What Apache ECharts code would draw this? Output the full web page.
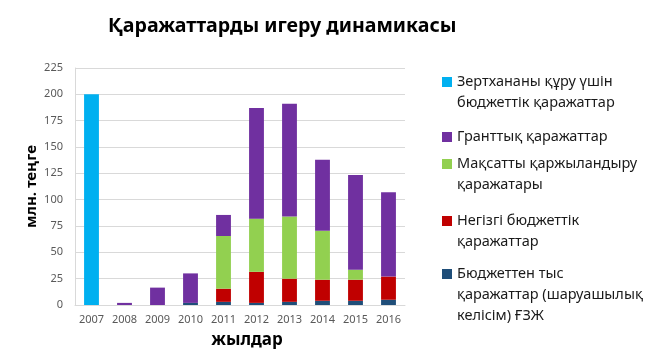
<!DOCTYPE html>
<html><head><meta charset="utf-8">
<script src="https://cdn.jsdelivr.net/npm/echarts@6/dist/echarts.min.js"></script>
<style>html,body{margin:0;background:#fff}#c{width:660px;height:363px}</style>
</head><body><div id="c"></div>
<script>
const years = ['2007','2008','2009','2010','2011','2012','2013','2014','2015','2016'];
const labFunds    = [200, 0, 0, 0, 0, 0, 0, 0, 0, 0];
const extraFunds  = [0, 0, 0, 2, 3, 2, 3, 4, 4, 5];
const basicFunds  = [0, 0, 0, 0, 12.5, 29.5, 22, 20, 20, 22];
const targetFunds = [0, 0, 0, 0, 50, 50.5, 59, 46.5, 9.5, 0];
const grantFunds  = [0, 2, 16.5, 28, 20, 105, 107, 67.5, 90, 80];
const yTicks = [0, 25, 50, 75, 100, 125, 150, 175, 200, 225];

const names = {
  lab: 'Зертхананы құру үшін\nбюджеттік қаражаттар',
  grant: 'Гранттық қаражаттар',
  target: 'Мақсатты қаржыландыру\nқаражатары',
  basic: 'Негізгі бюджеттік\nқаражаттар',
  extra: 'Бюджеттен тыс\nқаражаттар (шаруашылық\nкелісім) ҒЗЖ'
};
const colors = {lab:'#00B0F0', grant:'#7030A0', target:'#92D050', basic:'#C00000', extra:'#1F4E79'};
const FONT = 'Noto Sans';
const L = 21, S = 10;
function legendFor(key, lines, firstCenter) {
  const h = lines * L;
  const y0 = (L - S) / 2;
  const icon = lines === 1 ? 'rect'
    : 'path://M0,' + y0 + 'h' + S + 'v' + S + 'h-' + S + 'z M0,0 M' + S + ',' + h;
  return {
    data: [names[key]], orient: 'vertical', left: 442,
    top: firstCenter - L / 2, padding: 0,
    icon: icon, itemWidth: S, itemHeight: lines === 1 ? S : h, selectedMode: false,
    textStyle: {fontFamily: FONT, fontSize: 14.5, color: '#1a1a1a', lineHeight: L}
  };
}
function bar(key, data) {
  return {name: names[key], type: 'bar', stack: 'a', data: data, barWidth: '45%',
    itemStyle: {color: colors[key]}};
}
const chart = echarts.init(document.getElementById('c'), null, {renderer: 'canvas'});
chart.setOption({
  animation: false,
  title: {text: 'Қаражаттарды игеру динамикасы', left: 103, top: 11,
    textStyle: {fontFamily: FONT, fontSize: 19.6, fontWeight: 'bold', color: '#000'}},
  grid: {left: 75, right: 255, top: 68, bottom: 58},
  legend: [
    legendFor('lab', 2, 82),
    legendFor('grant', 1, 137),
    legendFor('target', 2, 164),
    legendFor('basic', 2, 221),
    legendFor('extra', 3, 274)
  ],
  xAxis: {type: 'category', data: years,
    name: 'жылдар', nameLocation: 'middle', nameGap: 27,
    nameTextStyle: {fontFamily: FONT, fontSize: 17, fontWeight: 'bold', color: '#000', padding: [0, 0, 0, 14]},
    axisLine: {lineStyle: {color: '#d9d9d9'}}, axisTick: {show: false},
    axisLabel: {fontFamily: FONT, fontSize: 11, color: '#595959', margin: 9}},
  yAxis: {type: 'value', min: yTicks[0], max: yTicks[yTicks.length-1], interval: yTicks[1]-yTicks[0],
    name: 'млн. теңге', nameLocation: 'middle', nameGap: 36,
    nameTextStyle: {fontFamily: FONT, fontSize: 15, fontWeight: 'bold', color: '#000'},
    axisLine: {show: true, lineStyle: {color: '#d9d9d9'}}, axisTick: {show: false},
    splitLine: {lineStyle: {color: '#d9d9d9'}},
    axisLabel: {fontFamily: FONT, fontSize: 11, color: '#595959', margin: 12}},
  series: [
    bar('extra', extraFunds),
    bar('basic', basicFunds),
    bar('target', targetFunds),
    bar('grant', grantFunds),
    bar('lab', labFunds)
  ]
});
</script></body></html>
